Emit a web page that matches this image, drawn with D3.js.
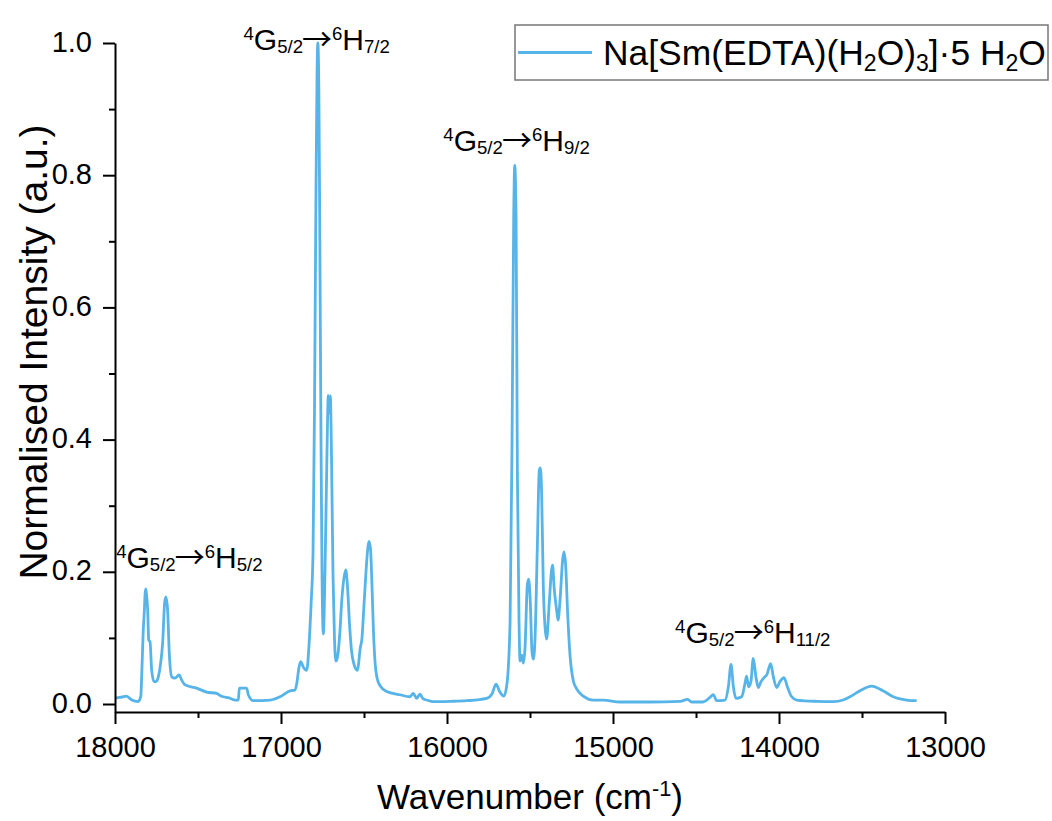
<!DOCTYPE html>
<html>
<head>
<meta charset="utf-8">
<script src="https://cdn.jsdelivr.net/npm/d3@7"></script>
<style>
  html, body { margin: 0; padding: 0; background: #fff; }
  svg { display: block; }
  text { font-family: "Liberation Sans", Arial, sans-serif; fill: #000; }
</style>
</head>
<body>
<svg id="chart" width="1052" height="821"></svg>
<script>
// Emission spectrum of Na[Sm(EDTA)(H2O)3]·5H2O, normalised to the strongest band
const wavenumber = [
  18000, 17970, 17930, 17899, 17861, 17845, 17836, 17830, 17823, 17819,
  17815, 17810, 17803, 17797, 17789, 17779, 17765, 17753, 17739, 17726,
  17713, 17701, 17693, 17683, 17673, 17658, 17639, 17614, 17598, 17578,
  17508, 17448, 17387, 17367, 17348, 17317, 17277, 17257, 17251, 17207,
  17197, 17167, 17066, 17006, 16946, 16916, 16905, 16892, 16881, 16866,
  16845, 16831, 16819, 16807, 16798, 16790, 16783, 16778, 16772, 16766,
  16759, 16753, 16745, 16735, 16723, 16715, 16709, 16703, 16696, 16687,
  16678, 16669, 16657, 16645, 16633, 16621, 16610, 16600, 16587, 16575,
  16560, 16540, 16533, 16524, 16512, 16500, 16488, 16476, 16470, 16461,
  16452, 16443, 16434, 16422, 16404, 16363, 16283, 16223, 16203, 16183,
  16163, 16145, 16122, 16083, 15982, 15881, 15761, 15729, 15705, 15681,
  15657, 15639, 15620, 15608, 15598, 15592, 15584, 15576, 15566, 15560,
  15550, 15540, 15530, 15516, 15508, 15498, 15488, 15480, 15470, 15456,
  15444, 15438, 15430, 15420, 15410, 15400, 15384, 15370, 15364, 15354,
  15339, 15331, 15319, 15303, 15295, 15285, 15273, 15259, 15239, 15219,
  15179, 15119, 15058, 14958, 14777, 14596, 14550, 14526, 14458, 14416,
  14396, 14375, 14325, 14305, 14289, 14275, 14259, 14225, 14205, 14195,
  14183, 14169, 14155, 14139, 14125, 14108, 14090, 14074, 14050, 14034,
  14014, 13994, 13970, 13948, 13924, 13893, 13773, 13673, 13614, 13572,
  13512, 13442, 13374, 13312, 13231, 13171
];
const intensity = [
  0.009, 0.010, 0.012, 0.006, 0.0035, 0.011, 0.066, 0.110, 0.142, 0.165,
  0.174, 0.165, 0.142, 0.097, 0.094, 0.051, 0.034, 0.034, 0.041, 0.060,
  0.092, 0.153, 0.162, 0.142, 0.077, 0.041, 0.039, 0.044, 0.036, 0.029,
  0.024, 0.018, 0.016, 0.013, 0.011, 0.0095, 0.006, 0.006, 0.024, 0.024,
  0.014, 0.005, 0.006, 0.011, 0.020, 0.021, 0.031, 0.055, 0.064, 0.056,
  0.051, 0.090, 0.150, 0.230, 0.450, 0.750, 0.950, 1.000, 0.930, 0.700,
  0.400, 0.200, 0.106, 0.200, 0.380, 0.467, 0.440, 0.466, 0.380, 0.200,
  0.100, 0.065, 0.075, 0.110, 0.160, 0.190, 0.203, 0.180, 0.120, 0.080,
  0.060, 0.051, 0.060, 0.082, 0.100, 0.150, 0.200, 0.238, 0.246, 0.235,
  0.180, 0.110, 0.065, 0.040, 0.028, 0.019, 0.014, 0.011, 0.016, 0.0085,
  0.015, 0.008, 0.006, 0.0035, 0.004, 0.005, 0.0085, 0.015, 0.030, 0.018,
  0.012, 0.030, 0.124, 0.404, 0.740, 0.815, 0.740, 0.348, 0.124, 0.065,
  0.074, 0.062, 0.085, 0.180, 0.189, 0.153, 0.079, 0.068, 0.097, 0.236,
  0.354, 0.357, 0.321, 0.180, 0.118, 0.098, 0.153, 0.203, 0.210, 0.174,
  0.141, 0.127, 0.157, 0.219, 0.230, 0.209, 0.136, 0.074, 0.035, 0.023,
  0.012, 0.006, 0.006, 0.003, 0.003, 0.004, 0.007, 0.003, 0.003, 0.010,
  0.014, 0.005, 0.006, 0.026, 0.060, 0.026, 0.0085, 0.011, 0.031, 0.042,
  0.026, 0.034, 0.069, 0.041, 0.025, 0.034, 0.040, 0.044, 0.061, 0.041,
  0.025, 0.034, 0.040, 0.025, 0.011, 0.006, 0.004, 0.0035, 0.006, 0.011,
  0.020, 0.027, 0.020, 0.011, 0.006, 0.005
];

const xMajorTicks = [18000, 17000, 16000, 15000, 14000, 13000];
const xMinorTicks = [17500, 16500, 15500, 14500, 13500];
const yMajorTicks = [0.0, 0.2, 0.4, 0.6, 0.8, 1.0];
const yMinorTicks = [0.1, 0.3, 0.5, 0.7, 0.9];

// Transition labels: text parts plus the (wavenumber, intensity) point where each starts
const bandLabels = [
  { parts: [["4","sup"],["G"],["5/2","sub"],["→","arrow"],["6","sup"],["H"],["5/2","sub"]], wn: 17993, y: 0.206 },
  { parts: [["4","sup"],["G"],["5/2","sub"],["→","arrow"],["6","sup"],["H"],["7/2","sub"]], wn: 17226, y: 0.990 },
  { parts: [["4","sup"],["G"],["5/2","sub"],["→","arrow"],["6","sup"],["H"],["9/2","sub"]], wn: 16022, y: 0.837 },
  { parts: [["4","sup"],["G"],["5/2","sub"],["→","arrow"],["6","sup"],["H"],["11/2","sub"]], wn: 14626, y: 0.092 }
];
const seriesName = [["Na[Sm(EDTA)(H"],["2","sub"],["O)"],["3","sub"],["]·5 H"],["2","sub"],["O"]];

const lineColor = "#56b4e9";
const svg = d3.select("#chart");
svg.append("rect").attr("width", 1052).attr("height", 821).attr("fill", "#fff");

const x = d3.scaleLinear().domain([18000, 13000]).range([115, 945]);
const y = d3.scaleLinear().domain([-0.0121, 1.0]).range([712, 43]);

// Rich text with super/subscripts and a long thin arrow
function richText(sel, parts, size, opts = {}) {
  const supShift = opts.sup ?? size * 0.36;
  const subShift = opts.sub ?? size * 0.12;
  const small = opts.small ?? 0.62;
  let offset = 0;
  parts.forEach(([t, kind]) => {
    let target = 0, fs = size;
    if (kind === "sup") { target = -supShift; fs = size * small; }
    if (kind === "sub") { target = subShift; fs = size * small; }
    const ts = sel.append("tspan")
      .attr("dy", target - offset)
      .attr("font-size", fs)
      .text(t);
    if (kind === "arrow") {
      ts.attr("font-family", "'Noto Sans CJK JP', sans-serif")
        .attr("font-size", size * 1.0)
        .attr("dx", -1);
    }
    offset = target;
  });
}

// Spectrum
const data = wavenumber.map((w, i) => [w, intensity[i]]);
const line = d3.line()
  .x(d => x(d[0]))
  .y(d => y(d[1]))
  .curve(d3.curveMonotoneX);

svg.append("path")
  .datum(data)
  .attr("fill", "none")
  .attr("stroke", lineColor)
  .attr("stroke-width", 2.8)
  .attr("stroke-linejoin", "round")
  .attr("d", line);

// Axes
const axisStroke = 2;
function styleAxis(g) {
  g.select(".domain").attr("stroke", "#000").attr("stroke-width", axisStroke);
  g.selectAll(".tick line").attr("stroke", "#000").attr("stroke-width", axisStroke);
  g.selectAll(".tick text")
    .attr("font-family", "'Liberation Sans', Arial, sans-serif")
    .attr("font-size", 29)
    .attr("fill", "#000");
}

const gxMinor = svg.append("g").attr("transform", "translate(0,712)")
  .call(d3.axisBottom(x).tickValues(xMinorTicks).tickSize(6).tickSizeOuter(0).tickFormat(""));
gxMinor.select(".domain").remove();
gxMinor.selectAll(".tick line").attr("stroke", "#000").attr("stroke-width", axisStroke);

const gx = svg.append("g").attr("transform", "translate(0,712)")
  .call(d3.axisBottom(x).tickValues(xMajorTicks).tickSize(12).tickSizeOuter(0)
    .tickFormat(d3.format("d")));
styleAxis(gx);
gx.selectAll(".tick text").attr("dy", 0).attr("y", 45);

const gyMinor = svg.append("g").attr("transform", "translate(115,0)")
  .call(d3.axisLeft(y).tickValues(yMinorTicks).tickSize(6).tickSizeOuter(0).tickFormat(""));
gyMinor.select(".domain").remove();
gyMinor.selectAll(".tick line").attr("stroke", "#000").attr("stroke-width", axisStroke);

const gy = svg.append("g").attr("transform", "translate(115,0)")
  .call(d3.axisLeft(y).tickValues(yMajorTicks).tickSize(12).tickSizeOuter(0)
    .tickFormat(d3.format(".1f")));
styleAxis(gy);
gy.selectAll(".tick text").attr("x", -23).attr("dy", 0).attr("y", 8);

// Axis titles
const xTitle = svg.append("text")
  .attr("x", 530).attr("y", 809)
  .attr("text-anchor", "middle")
  .attr("font-size", 35);
richText(xTitle, [["Wavenumber (cm"], ["-1", "sup"], [")"]], 35, { sup: 13 });

svg.append("text")
  .attr("transform", "translate(47,352) rotate(-90)")
  .attr("text-anchor", "middle")
  .attr("font-size", 39)
  .text("Normalised Intensity (a.u.)");

// Transition annotations
bandLabels.forEach(b => {
  const t = svg.append("text")
    .attr("x", x(b.wn)).attr("y", y(b.y))
    .attr("font-size", 30);
  richText(t, b.parts, 30, { sup: 10, sub: 3 });
});

// Legend
const legend = svg.append("g");
legend.append("rect")
  .attr("x", 515).attr("y", 25).attr("width", 533).attr("height", 55)
  .attr("fill", "#fff").attr("stroke", "#777").attr("stroke-width", 1.5);
legend.append("line")
  .attr("x1", 518).attr("x2", 592).attr("y1", 52.5).attr("y2", 52.5)
  .attr("stroke", lineColor).attr("stroke-width", 2.8);
const legText = legend.append("text")
  .attr("x", 603).attr("y", 65)
  .attr("font-size", 35.4);
richText(legText, seriesName, 35.4, { sub: 6, small: 0.65 });
</script>
</body>
</html>
